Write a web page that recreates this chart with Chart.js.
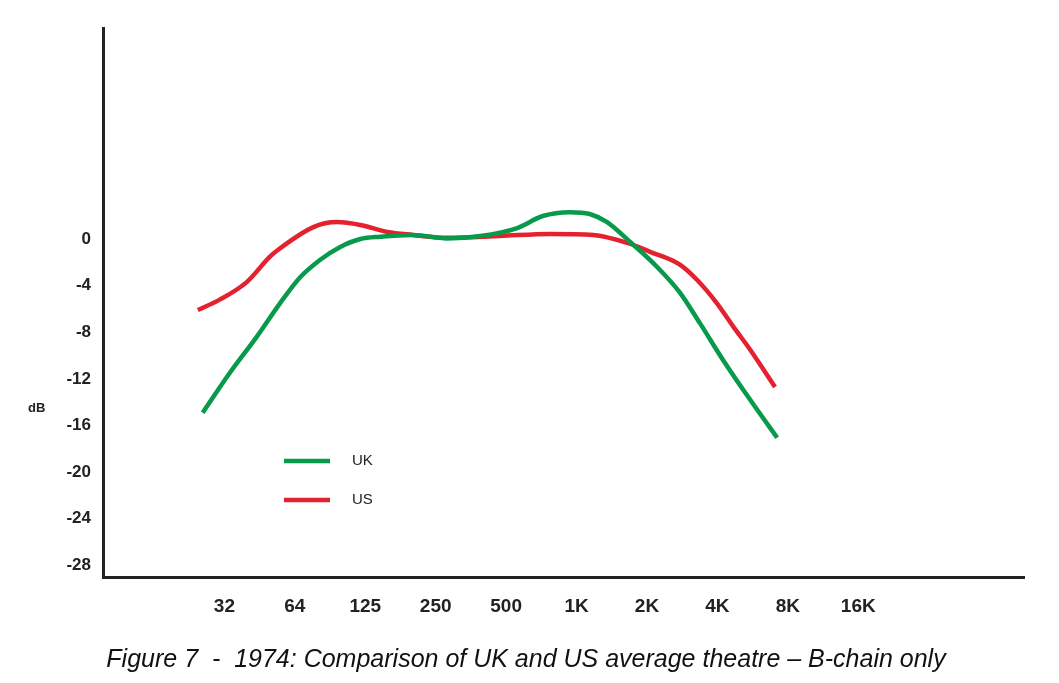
<!DOCTYPE html>
<html>
<head>
<meta charset="utf-8">
<script src="https://cdn.jsdelivr.net/npm/chart.js@4.4.0/dist/chart.umd.min.js"></script>
<style>
  html, body { margin: 0; padding: 0; background: #fff; }
  #wrap { width: 1059px; height: 683px; position: relative; }
</style>
</head>
<body>
<div id="wrap"><canvas id="myChart" width="1059" height="683"></canvas></div>
<script>
// octave band labels (x position = octave index, 32 Hz = 0)
const bandLabels = ['32', '64', '125', '250', '500', '1K', '2K', '4K', '8K', '16K'];
const dbTicks = [0, -4, -8, -12, -16, -20, -24, -28];

// UK curve (octave index, dB)
const ukOct = [-0.308, 0.075, 0.458, 0.791, 1.073, 1.356, 1.638, 1.93, 2.213, 2.676, 3.16, 3.634, 4.158, 4.521, 4.904, 5.186, 5.428, 5.761, 6.144, 6.467, 6.749, 7.082, 7.465, 7.848];
const ukDb = [-14.9, -11.5, -8.4, -5.5, -3.3, -1.8, -0.7, 0, 0.2, 0.35, 0.05, 0.25, 0.94, 1.97, 2.3, 2.14, 1.46, -0.26, -2.4, -4.6, -7.2, -10.4, -13.8, -17.05];

// US curve
const usOct = [-0.378, -0.066, 0.317, 0.65, 0.791, 1.255, 1.598, 1.93, 2.313, 2.676, 3.16, 3.916, 4.622, 5.237, 5.721, 6.043, 6.467, 6.709, 6.991, 7.223, 7.465, 7.818];
const usDb = [-6.1, -5.2, -3.7, -1.5, -0.8, 1.0, 1.45, 1.2, 0.6, 0.35, 0.1, 0.26, 0.43, 0.34, -0.34, -1.1, -2.2, -3.5, -5.5, -7.5, -9.5, -12.7];

const seriesNames = ['UK', 'US'];
const seriesColors = ['#079a4b', '#e5202f'];

const toPoints = (xs, ys) => xs.map((x, i) => ({ x: x, y: ys[i] }));

const FONT = '"Liberation Sans", Arial, sans-serif';

const extras = {
  id: 'extras',
  afterDraw(chart) {
    const ctx = chart.ctx;
    ctx.save();
    // dB label
    ctx.fillStyle = '#222';
    ctx.font = 'bold 13px ' + FONT;
    ctx.textAlign = 'left';
    ctx.textBaseline = 'middle';
    ctx.fillText('dB', 28, 408);

    // legend inside plot
    chart.data.datasets.forEach((ds, i) => {
      const y = 461 + i * 39;
      ctx.strokeStyle = ds.borderColor;
      ctx.lineWidth = 4.5;
      ctx.beginPath();
      ctx.moveTo(284, y);
      ctx.lineTo(330, y);
      ctx.stroke();
      ctx.fillStyle = '#222';
      ctx.font = '15px ' + FONT;
      ctx.textAlign = 'left';
      ctx.fillText(ds.label, 352, y);
    });

    // caption
    ctx.fillStyle = '#111';
    ctx.font = 'italic 25px ' + FONT;
    ctx.textAlign = 'center';
    ctx.fillText('Figure 7  -  1974: Comparison of UK and US average theatre \u2013 B-chain only', 526, 660);
    ctx.restore();
  }
};

const chart = new Chart(document.getElementById('myChart'), {
  type: 'line',
  data: {
    datasets: [
      { label: seriesNames[0], data: toPoints(ukOct, ukDb), borderColor: seriesColors[0] },
      { label: seriesNames[1], data: toPoints(usOct, usDb), borderColor: seriesColors[1] },
    ],
  },
  options: {
    responsive: false,
    animation: false,
    layout: { padding: { top: 28, right: 35, left: 0, bottom: 0 } },
    elements: {
      line: { borderWidth: 4.5, cubicInterpolationMode: 'monotone', fill: false },
      point: { radius: 0 },
    },
    plugins: { legend: { display: false }, tooltip: { enabled: false } },
    scales: {
      x: {
        type: 'linear',
        min: -1.724,
        max: 11.353,
        grid: { display: false, drawTicks: false },
        border: { display: true, color: '#222', width: 3 },
        afterBuildTicks: (axis) => { axis.ticks = bandLabels.map((_, i) => ({ value: i })); },
        afterFit: (axis) => { axis.height = 106; },
        ticks: {
          autoSkip: false,
          maxRotation: 0,
          padding: 18,
          color: '#222',
          font: { family: FONT, size: 19, weight: 'bold' },
          callback: (v) => bandLabels[v],
        },
      },
      y: {
        min: -29,
        max: 18.1,
        grid: { display: false, drawTicks: false },
        border: { display: true, color: '#222', width: 3 },
        afterBuildTicks: (axis) => { axis.ticks = dbTicks.map((v) => ({ value: v })); },
        afterFit: (axis) => { axis.width = 103; },
        ticks: {
          padding: 12,
          color: '#222',
          font: { family: FONT, size: 17, weight: 'bold' },
          callback: (v) => String(v),
        },
      },
    },
  },
  plugins: [extras],
});
</script>
</body>
</html>
